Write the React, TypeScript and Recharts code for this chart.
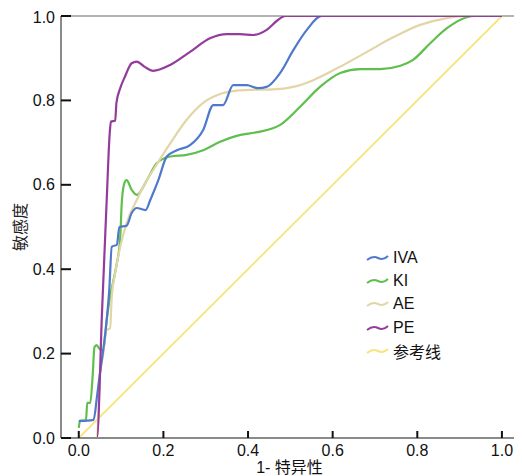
import React from 'react';
import { LineChart, Line, XAxis, YAxis, ReferenceLine, Legend, Label } from 'recharts';

const xTicks = [0, 0.2, 0.4, 0.6, 0.8, 1.0];
const yTicks = [0, 0.2, 0.4, 0.6, 0.8, 1.0];

const ivaX = [0, 0.035, 0.043, 0.047, 0.066, 0.072, 0.078, 0.09, 0.096, 0.113, 0.125, 0.137, 0.158, 0.169, 0.188, 0.208, 0.232, 0.263, 0.294, 0.318, 0.341, 0.365, 0.381, 0.397, 0.424, 0.444, 0.476, 0.507, 0.539, 0.574, 1.0];
const ivaY = [0.04, 0.043, 0.098, 0.13, 0.28, 0.35, 0.453, 0.458, 0.5, 0.503, 0.533, 0.545, 0.54, 0.564, 0.611, 0.667, 0.682, 0.694, 0.73, 0.789, 0.789, 0.836, 0.836, 0.836, 0.829, 0.832, 0.865, 0.919, 0.967, 1.0, 1.0];

const kiX = [0, 0.003, 0.017, 0.02, 0.027, 0.033, 0.037, 0.042, 0.05, 0.058, 0.066, 0.074, 0.082, 0.09, 0.098, 0.102, 0.109, 0.113, 0.125, 0.137, 0.161, 0.184, 0.216, 0.255, 0.294, 0.334, 0.373, 0.405, 0.429, 0.476, 0.523, 0.57, 0.618, 0.665, 0.712, 0.76, 0.79, 0.83, 0.87, 0.917, 0.935, 1.0];
const kiY = [0.024, 0.041, 0.041, 0.083, 0.083, 0.15, 0.215, 0.22, 0.21, 0.208, 0.28, 0.335, 0.374, 0.414, 0.477, 0.564, 0.607, 0.611, 0.588, 0.576, 0.611, 0.651, 0.667, 0.671, 0.682, 0.702, 0.716, 0.722, 0.726, 0.742, 0.785, 0.832, 0.865, 0.874, 0.874, 0.882, 0.896, 0.935, 0.971, 0.997, 1.0, 1.0];

const aeX = [0, 0.043, 0.05, 0.058, 0.064, 0.074, 0.078, 0.086, 0.098, 0.113, 0.137, 0.161, 0.176, 0.216, 0.255, 0.294, 0.334, 0.373, 0.405, 0.46, 0.507, 0.554, 0.618, 0.681, 0.744, 0.807, 0.87, 0.917, 1.0];
const aeY = [0, 0, 0.15, 0.2, 0.255, 0.26, 0.335, 0.39, 0.453, 0.509, 0.564, 0.611, 0.635, 0.698, 0.754, 0.794, 0.815, 0.823, 0.825, 0.826, 0.832, 0.848, 0.88, 0.915, 0.95, 0.979, 0.995, 1.0, 1.0];

const peX = [0, 0.043, 0.055, 0.066, 0.073, 0.076, 0.086, 0.089, 0.098, 0.109, 0.125, 0.137, 0.155, 0.176, 0.216, 0.263, 0.31, 0.35, 0.381, 0.412, 0.444, 0.47, 0.488, 1.0];
const peY = [0, 0, 0.3, 0.564, 0.72, 0.75, 0.752, 0.794, 0.829, 0.856, 0.888, 0.892, 0.88, 0.87, 0.884, 0.915, 0.947, 0.957, 0.957, 0.955, 0.967, 0.99, 1.0, 1.0];

const refX = [0, 1];
const refY = [0, 1];

const toPoints = (xs: number[], ys: number[]) => xs.map((x, i) => ({ x, y: ys[i] }));

const series = [
  { name: 'IVA', color: '#4f79cc', data: toPoints(ivaX, ivaY) },
  { name: 'KI', color: '#5fbf4c', data: toPoints(kiX, kiY) },
  { name: 'AE', color: '#e3d5a6', data: toPoints(aeX, aeY) },
  { name: 'PE', color: '#933c9c', data: toPoints(peX, peY) },
  { name: '参考线', color: '#f7e47c', data: toPoints(refX, refY) },
];

const drawOrder = ['参考线', 'KI', 'AE', 'IVA', 'PE'];

const FONT = '"Liberation Sans", Arial, "Noto Sans CJK SC", sans-serif';

const LegendContent = () => (
  <div style={{ fontFamily: FONT, fontSize: 16, color: '#111' }}>
    {series.map((s) => (
      <div key={s.name} style={{ display: 'flex', alignItems: 'center', height: 23.3 }}>
        <svg width={24} height={10} style={{ marginRight: 3 }}>
          <path d="M1,7 C6,3 10,4 12,5 S18,7 22,3" fill="none" stroke={s.color} strokeWidth={2} />
        </svg>
        <span>{s.name}</span>
      </div>
    ))}
  </div>
);

export default function App() {
  return (
    <div style={{ fontFamily: FONT }}>
      <LineChart width={514} height={468} margin={{ top: 8, right: 4, bottom: 0, left: 0 }}>
        <XAxis
          type="number"
          dataKey="x"
          domain={[-0.042, 1.038]}
          ticks={xTicks}
          allowDataOverflow
          tickFormatter={(v: number) => v.toFixed(1)}
          axisLine={{ stroke: '#8a8a8a', strokeWidth: 2 }}
          tickLine={{ stroke: '#111', strokeWidth: 2 }}
          tickSize={-7}
          tickMargin={14}
          height={38}
          tick={{ fill: '#111', fontSize: 16 }}
        >
          <Label
            content={(props: any) => {
              const vb = props.viewBox || { x: 53, width: 457 };
              return (
                <text x={vb.x + vb.width / 2} y={465} textAnchor="middle" fontSize={16} fill="#111">
                  1- 特异性
                </text>
              );
            }}
          />
        </XAxis>
        <YAxis
          type="number"
          domain={[0, 1]}
          ticks={yTicks}
          allowDataOverflow
          tickFormatter={(v: number) => v.toFixed(1)}
          axisLine={{ stroke: '#8a8a8a', strokeWidth: 2 }}
          tickLine={{ stroke: '#111', strokeWidth: 2 }}
          tickSize={-10}
          tickMargin={16}
          width={53}
          tick={{ fill: '#111', fontSize: 16 }}
        >
          <Label
            content={(props: any) => {
              const vb = props.viewBox || { y: 8, height: 422 };
              const cy = vb.y + vb.height / 2;
              return (
                <text
                  x={12}
                  y={cy}
                  transform={`rotate(-90, 12, ${cy})`}
                  textAnchor="middle"
                  dominantBaseline="central"
                  fontSize={16}
                  fill="#222"
                >
                  敏感度
                </text>
              );
            }}
          />
        </YAxis>
        <ReferenceLine y={1} stroke="#9a9a9a" strokeWidth={1.5} ifOverflow="visible" />
        <ReferenceLine x={1.038} stroke="#9a9a9a" strokeWidth={1.5} ifOverflow="visible" />
        {drawOrder.map((n) => {
          const s = series.find((q) => q.name === n)!;
          return (
            <Line
              key={s.name}
              name={s.name}
              data={s.data}
              dataKey="y"
              type={s.name === '参考线' ? 'linear' : 'monotone'}
              stroke={s.color}
              strokeWidth={s.name === '参考线' ? 1.8 : 2.2}
              dot={false}
              activeDot={false}
              isAnimationActive={false}
            />
          );
        })}
        <Legend
          layout="horizontal"
          verticalAlign="middle"
          align="center"
          content={() => <LegendContent />}
          wrapperStyle={{ left: 358, top: 238, width: 130 }}
        />
      </LineChart>
    </div>
  );
}
